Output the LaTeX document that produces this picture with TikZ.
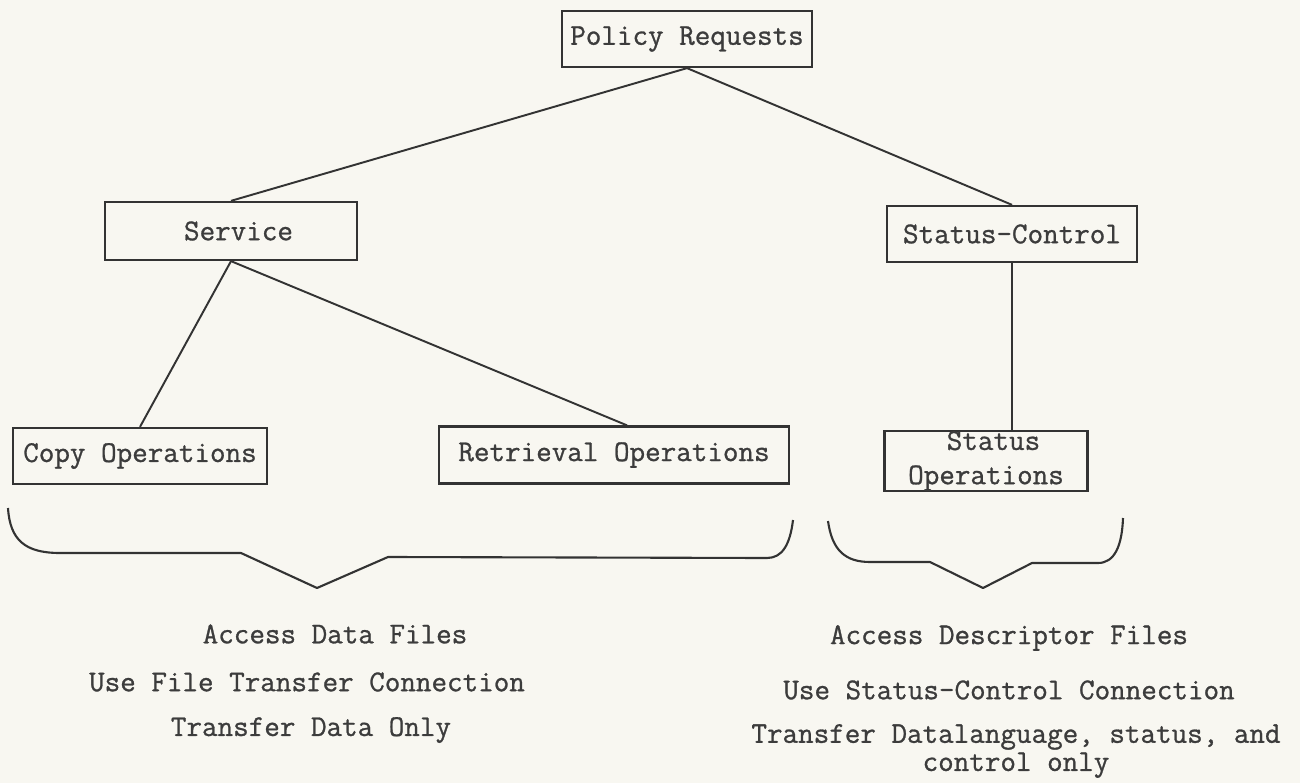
\documentclass[tikz,border=0pt]{standalone}
\usepackage{fontspec}
\newfontfamily\typewr[FakeBold=0.9]{Latin Modern Mono}
\usetikzlibrary{calc}
\definecolor{paper}{HTML}{F8F7F1}
\definecolor{ink}{HTML}{333333}
\definecolor{typeink}{HTML}{3C3C3C}
\tikzset{
  box/.style={draw=ink, line width=1.3pt, rectangle, inner sep=0pt,
    font=\typewr\fontsize{17.2}{19.5}\selectfont, text=typeink, align=center},
  link/.style={draw=ink, line width=1.1pt},
  brace/.style={draw=ink, line width=1.2pt, line join=round},
  note/.style={font=\typewr\fontsize{17.2}{19.5}\selectfont, text=typeink, inner sep=0pt, anchor=center, align=center}
}
\begin{document}
\begin{tikzpicture}[x=0.02cm,y=-0.02cm]
\fill[paper] (0,0) rectangle (1300,783);
\useasboundingbox (0,0) rectangle (1300,783);

\node[box, minimum width=5.0cm, minimum height=1.12cm] (pr) at (687,39) {Policy Requests};
\node[box, minimum width=5.04cm, minimum height=1.16cm] (sv) at (231,231) {\hspace*{0.3cm}Service};
\node[box, minimum width=5.0cm, minimum height=1.12cm] (sc) at (1012,234) {Status-Control};
\node[box, minimum width=5.08cm, minimum height=1.12cm] (cp) at (140,456) {Copy Operations};
\node[box, minimum width=7.0cm, minimum height=1.14cm] (rt) at (614,455) {Retrieval Operations};
\node[box, minimum width=4.06cm, minimum height=1.2cm] (so) at (986,461) {\hspace*{0.3cm}Status\\Operations};

\draw[link] (pr.south) -- (sv.north);
\draw[link] (pr.south) -- (sc.north);
\draw[link] (sv.south) -- (cp.north);
\draw[link] (sv.south) -- ([xshift=0.26cm]rt.north);
\draw[link] (sc.south) -- (sc.south |- so.north);

% braces
\draw[brace] (8,508) .. controls (10,540) and (25,553) .. (60,553) -- (241,553) -- (317,588) -- (388,557) -- (767,558) .. controls (782,558) and (790,545) .. (793,520);
\draw[brace] (828,521) .. controls (832,550) and (845,562) .. (870,562) -- (930,562) -- (983,588) -- (1032,563) -- (1098,563) .. controls (1115,563) and (1122,545) .. (1123,518);

% left notes
\node[note] (l1) at (335,634) {Access Data Files};
\node[note] (l2) at (307,682) {Use File Transfer Connection};
\node[note] (l3) at (311,730) {Transfer Data Only};

% right notes
\node[note] (r1) at (1009,638) {Access Descriptor Files};
\node[note] (r2) at (1009,690) {Use Status-Control Connection};
\node[note, font=\typewr\fontsize{17.2}{16}\selectfont] (r3) at (1016,751) {Transfer Datalanguage, status, and\\control only};
\end{tikzpicture}
\end{document}
